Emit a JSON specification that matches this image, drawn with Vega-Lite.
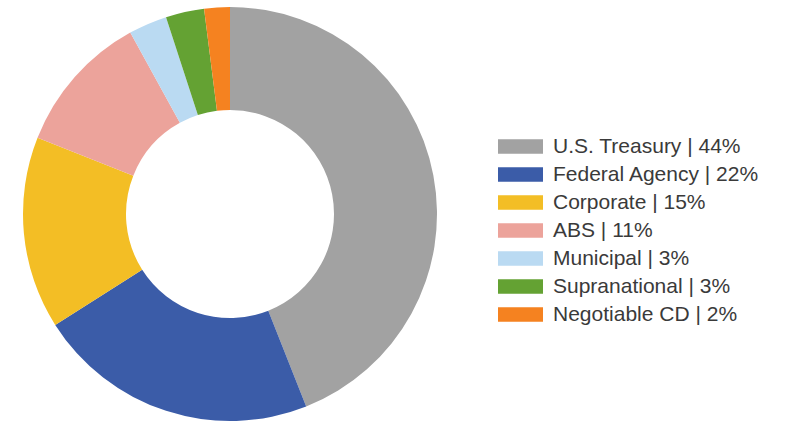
{
  "$schema": "https://vega.github.io/schema/vega-lite/v6.json",
  "width": 460,
  "height": 428,
  "padding": 0,
  "background": "white",
  "view": {"stroke": null},
  "data": {
    "values": [
      {"label": "U.S. Treasury | 44%", "value": 44, "order": 1},
      {"label": "Federal Agency | 22%", "value": 22, "order": 2},
      {"label": "Corporate | 15%", "value": 15, "order": 3},
      {"label": "ABS | 11%", "value": 11, "order": 4},
      {"label": "Municipal | 3%", "value": 3, "order": 5},
      {"label": "Supranational | 3%", "value": 3, "order": 6},
      {"label": "Negotiable CD | 2%", "value": 2, "order": 7}
    ]
  },
  "mark": {"type": "arc", "outerRadius": 207, "innerRadius": 104},
  "encoding": {
    "theta": {"field": "value", "type": "quantitative", "stack": true},
    "order": {"field": "order", "type": "quantitative"},
    "color": {
      "field": "label",
      "type": "nominal",
      "sort": null,
      "scale": {
        "domain": ["U.S. Treasury | 44%", "Federal Agency | 22%", "Corporate | 15%", "ABS | 11%", "Municipal | 3%", "Supranational | 3%", "Negotiable CD | 2%"],
        "range": ["#A2A2A2", "#3B5CA8", "#F3BE25", "#ECA39B", "#BADAF2", "#64A233", "#F58220"]
      },
      "legend": {
        "title": null,
        "orient": "none",
        "legendX": 510,
        "legendY": 136,
        "symbolType": "M-2.25,-0.72H2.25V0.72H-2.25Z",
        "symbolSize": 400,
        "symbolStrokeWidth": 0,
        "symbolOpacity": 1,
        "labelFont": "Liberation Sans",
        "labelFontSize": 21,
        "labelColor": "#3A3A3A",
        "labelOffset": 22,
        "labelLimit": 300,
        "rowPadding": 6
      }
    }
  }
}
